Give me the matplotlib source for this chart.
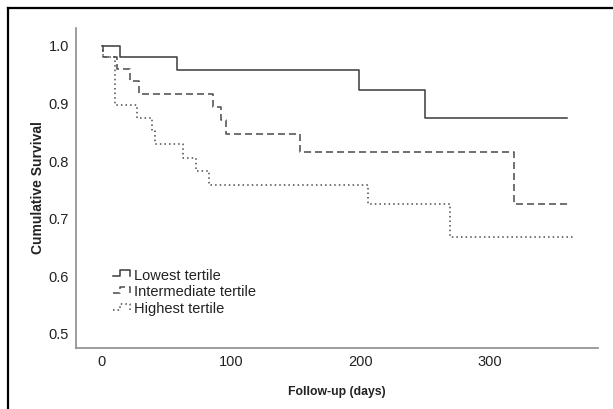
import matplotlib
matplotlib.use("Agg")
from matplotlib import pyplot as plt
from matplotlib.legend_handler import HandlerBase
from matplotlib.lines import Line2D

# Kaplan-Meier steps (days, survival after the drop)
low_t = [0, 14, 58, 199, 250, 360]
low_s = [1.0, 0.980, 0.957, 0.923, 0.874, 0.874]

mid_t = [0, 1, 12, 22, 29, 86, 92, 96, 153, 319, 362]
mid_s = [1.0, 0.980, 0.959, 0.938, 0.916, 0.894, 0.872, 0.847, 0.816, 0.726, 0.726]

high_t = [0, 1, 10, 27, 39, 41, 63, 73, 83, 206, 269, 365]
high_s = [1.0, 0.980, 0.897, 0.875, 0.852, 0.830, 0.806, 0.783, 0.759, 0.725, 0.669, 0.669]

labels = ["Lowest tertile", "Intermediate tertile", "Highest tertile"]
x_ticks = [0, 100, 200, 300]
y_ticks = [0.5, 0.6, 0.7, 0.8, 0.9, 1.0]

plt.rcParams['font.family'] = ['Liberation Sans', 'DejaVu Sans']

W, H = 613, 409


class StepHandler(HandlerBase):
    # small step glyph like the spss legend
    def create_artists(self, legend, orig, xd, yd, w, h, fontsize, trans):
        xs = [xd, xd + 0.38 * w, xd + 0.38 * w, xd + 0.92 * w, xd + 0.92 * w]
        ys = [yd + 0.3 * h, yd + 0.3 * h, yd + 0.95 * h, yd + 0.95 * h, yd + 0.35 * h]
        ln = Line2D(xs, ys, color=orig.get_color(), lw=orig.get_linewidth(),
                    transform=trans)
        if orig.get_linestyle() != '-':
            ln.set_dashes(orig._unscaled_dash_pattern[1])
        return [ln]


fig = plt.figure(figsize=(W / 100, H / 100), dpi=100)
ax = fig.add_axes([76 / W, 1 - 348 / H, (598 - 76) / W, (348 - 28) / H])

l1, = ax.step(low_t, low_s, where='post', color='#3a3a3a', lw=1.1, label=labels[0])
l2, = ax.step(mid_t, mid_s, where='post', color='#4a4a4a', lw=1.1, label=labels[1])
l2.set_dashes((4.6, 2.6))
l3, = ax.step(high_t, high_s, where='post', color='#4a4a4a', lw=1.1, label=labels[2])
l3.set_dashes((1.0, 2.0))

ax.set_xlim(-20, 383.6)
ax.set_ylim(0.4757, 1.0307)
ax.set_xticks(x_ticks)
ax.set_yticks(y_ticks)
ax.set_yticklabels([f"{v:.1f}" for v in y_ticks])
ax.tick_params(length=0, labelsize=10.5, colors='#222222', pad=5)

for s in ['top', 'right']:
    ax.spines[s].set_visible(False)
for s in ['left', 'bottom']:
    ax.spines[s].set_color('#8c8c8c')
    ax.spines[s].set_linewidth(1.2)

ax.set_xlabel("Follow-up (days)", fontsize=8.8, fontweight='bold', color='#222222', labelpad=12)
ax.set_ylabel("Cumulative Survival", fontsize=10, fontweight='bold', color='#222222', labelpad=3)

ax.legend(handles=[l1, l2, l3], loc='upper left',
          bbox_to_anchor=(113 / W, 1 - 268.5 / H), bbox_transform=fig.transFigure,
          frameon=False, fontsize=10.5, handlelength=1.3, handletextpad=0.15,
          labelspacing=0.2, borderpad=0, borderaxespad=0,
          handler_map={Line2D: StepHandler()}, labelcolor='#222222')

# frame lines of the original image (left and top)
fig.add_artist(Line2D([8 / W, 8 / W], [0, 1 - 8 / H], transform=fig.transFigure, color='black', lw=1.6))
fig.add_artist(Line2D([8 / W, 1], [1 - 8 / H, 1 - 8 / H], transform=fig.transFigure, color='black', lw=1.6))

fig.savefig("out.png", dpi=100)
